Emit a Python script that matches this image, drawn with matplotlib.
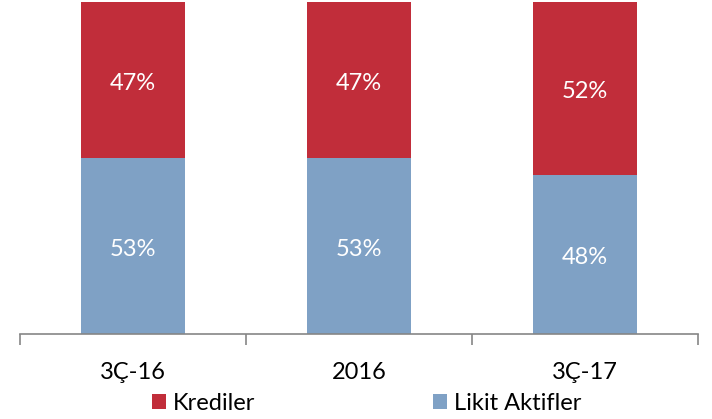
import numpy as np
import matplotlib.pyplot as plt

categories = ['3Ç-16', '2016', '3Ç-17']
likit_aktifler = [53, 53, 48]
krediler = [47, 47, 52]

red = '#C12D3A'
blue = '#7FA1C5'

plt.rcParams['font.family'] = ['Lato', 'DejaVu Sans']

fig = plt.figure(figsize=(7.12, 4.19), dpi=100)
ax = fig.add_axes([20 / 712, 85 / 419, 678 / 712, 332 / 419])

x = np.arange(len(categories))
width = 0.46
b1 = ax.bar(x, likit_aktifler, width, color=blue, label='Likit Aktifler')
b2 = ax.bar(x, krediler, width, bottom=likit_aktifler, color=red, label='Krediler')

for i in range(len(categories)):
    ax.text(x[i], likit_aktifler[i] / 2 - 1, f'{likit_aktifler[i]}%', ha='center', va='center',
            color='white', fontsize=17)
    ax.text(x[i], likit_aktifler[i] + krediler[i] / 2 - 1, f'{krediler[i]}%', ha='center',
            va='center', color='white', fontsize=17)

ax.set_xlim(-0.5, 2.5)
ax.set_ylim(0, 100)
ax.set_yticks([])
for side in ['top', 'right', 'left']:
    ax.spines[side].set_visible(False)
ax.spines['bottom'].set_color('#868686')
ax.spines['bottom'].set_linewidth(1.2)

ax.set_xticks(x)
ax.set_xticklabels(categories, fontsize=17)
ax.set_xticks([-0.5, 0.5, 1.5, 2.5], minor=True)
ax.tick_params(axis='x', which='major', length=0, pad=20)
ax.tick_params(axis='x', which='minor', length=8, width=1.2, color='#868686')

fig.legend(handles=[b2, b1], loc='upper center', bbox_to_anchor=(0.515, 0.085), ncol=2,
           frameon=False, fontsize=17, handlelength=0.6, handleheight=0.6,
           handletextpad=0.3, columnspacing=7.5, borderaxespad=0)

fig.savefig('out.png', dpi=100)
